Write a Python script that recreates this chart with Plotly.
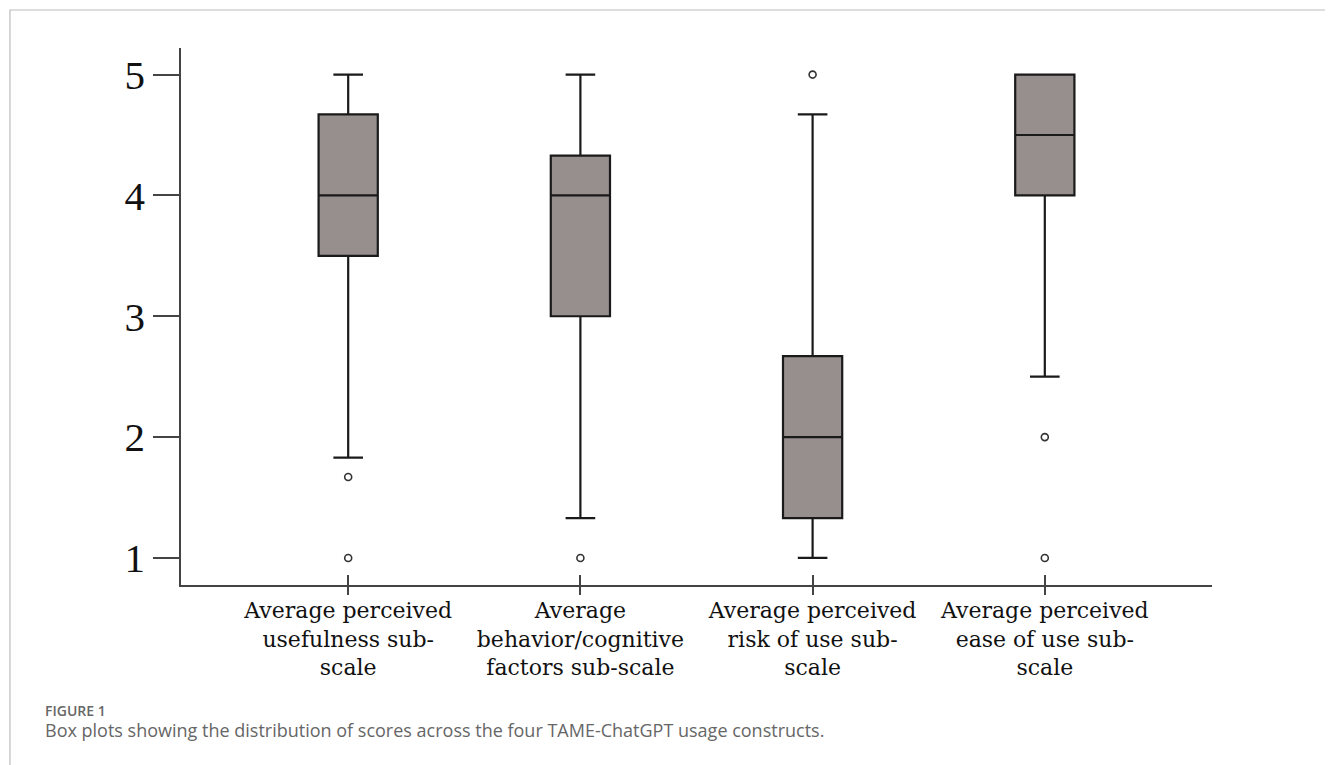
import plotly.graph_objects as go

categories = [
    "Average perceived<br>usefulness sub-<br>scale",
    "Average<br>behavior/cognitive<br>factors sub-scale",
    "Average perceived<br>risk of use sub-<br>scale",
    "Average perceived<br>ease of use sub-<br>scale",
]
q1 = [3.5, 3.0, 1.33, 4.0]
median = [4.0, 4.0, 2.0, 4.5]
q3 = [4.67, 4.33, 2.67, 5.0]
lowerfence = [1.83, 1.33, 1.0, 2.5]
upperfence = [5.0, 5.0, 4.67, 5.0]
outlier_cat = [categories[0], categories[0], categories[1], categories[2], categories[3], categories[3]]
outlier_val = [1.67, 1.0, 1.0, 5.0, 2.0, 1.0]
y_ticks = [1, 2, 3, 4, 5]

fig = go.Figure()
fig.add_trace(go.Box(
    x=categories, q1=q1, median=median, q3=q3,
    lowerfence=lowerfence, upperfence=upperfence,
    fillcolor="#968f8e", line=dict(color="#1a1a1a", width=2.2),
    width=0.255, whiskerwidth=0.5, showlegend=False, hoverinfo="skip",
))
fig.add_trace(go.Scatter(
    x=outlier_cat, y=outlier_val, mode="markers",
    marker=dict(symbol="circle-open", size=7, color="#333333", line=dict(width=1.6)),
    showlegend=False, hoverinfo="skip",
))
fig.add_trace(go.Scatter(
    x=categories, y=[None] * 4, xaxis="x2", mode="markers", showlegend=False, hoverinfo="skip",
))

xr = [-0.72, 3.72]
fig.update_layout(
    width=1325, height=757,
    margin=dict(l=173, r=121, t=40, b=180),
    paper_bgcolor="white", plot_bgcolor="white",
    xaxis=dict(
        type="category", categoryorder="array", categoryarray=categories,
        range=xr, showline=True, linecolor="#444", linewidth=1.5,
        ticks="outside", ticklen=8, tickcolor="#444", tickwidth=1.5,
        ticklabelstandoff=-3,
        showgrid=False, zeroline=False,
        tickfont=dict(family="DejaVu Serif", size=22, color="#111"),
    ),
    xaxis2=dict(
        type="category", categoryorder="array", categoryarray=categories,
        overlaying="x", anchor="y", range=xr, showline=False,
        ticks="inside", ticklen=10, tickcolor="#444", tickwidth=1.5,
        showticklabels=False, showgrid=False, zeroline=False,
    ),
    yaxis=dict(
        range=[0.776, 5.22], tickvals=y_ticks, showline=True, linecolor="#444",
        linewidth=1.5, ticks="outside", ticklen=26, tickcolor="#444", tickwidth=1.5,
        showgrid=False, zeroline=False,
        tickfont=dict(family="Liberation Serif", size=41, color="#111"),
    ),
)

fig.add_shape(type="rect", xref="paper", yref="paper",
              x0=-0.1659, x1=1.1164, y0=-0.45, y1=1.0708,
              line=dict(color="#bbbbbb", width=1.2), layer="below")

fig.add_annotation(text="FIGURE 1", xref="paper", yref="paper", x=-0.1339, y=-0.2328,
                   xanchor="left", yanchor="middle", showarrow=False,
                   font=dict(family="Open Sans", size=14, color="#666666", weight=600))
fig.add_annotation(text="Box plots showing the distribution of scores across the four TAME-ChatGPT usage constructs.",
                   xref="paper", yref="paper", x=-0.1339, y=-0.2700,
                   xanchor="left", yanchor="middle", showarrow=False,
                   font=dict(family="Open Sans", size=18, color="#666666"))

fig.write_html("out.html")
